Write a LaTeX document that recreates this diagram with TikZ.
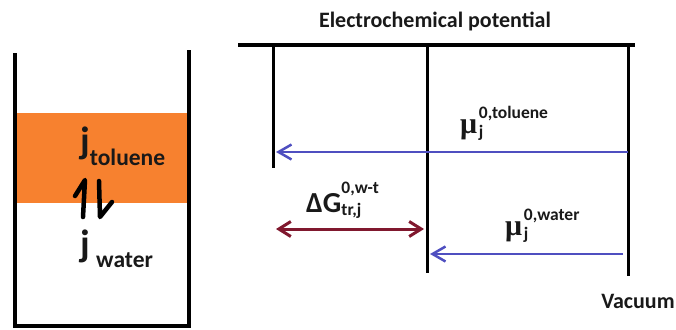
\documentclass[tikz,border=0pt]{standalone}
\usepackage{fontspec}
\setmainfont{Carlito}
\newfontfamily\greekfont{Liberation Serif}
\usetikzlibrary{arrows.meta, positioning}
\definecolor{myorange}{HTML}{F7812F}
\definecolor{myblue}{HTML}{4F4FC0}
\definecolor{mydarkred}{HTML}{80182E}
\newcommand{\fsz}[1]{\fontsize{#1}{#1}\selectfont}
% base, superscript, subscript, raise of the superscript, drop of the subscript
\newcommand{\potsym}[5]{#1\rlap{\raisebox{#4}{\fsz{17.5}#2}}\raisebox{-#5}{\fsz{17.5}#3}}

\begin{document}
\begin{tikzpicture}[x=1pt, y=-1pt, every node/.style={font=\bfseries, inner sep=0pt, text=black!90},
    wall/.style={line width=4pt},
    level/.style={line width=3pt},
    potarrow/.style={myblue, line width=2.5pt, -{Straight Barb[length=13pt,width=15pt]}},
    gaparrow/.style={mydarkred, line width=3pt, {Straight Barb[length=12pt,width=15pt]}-{Straight Barb[length=12pt,width=15pt]}},
    harp/.style={line width=4.5pt, line cap=round, line join=round}]
    \useasboundingbox (0,0) rectangle (676,329);
    % beaker with the two phases
    \fill[myorange] (15,113) rectangle (189,203);
    \draw[wall] (15,53) -- (15,326) -- (189,326) -- (189,50);
    \node[anchor=base west] (jtol) at (80,153) {\fsz{38}j\raisebox{-12pt}{\fsz{23.5}toluene}};
    \node[anchor=base west] (jwat) at (80,256) {\fsz{38}j\,\raisebox{-11pt}{\fsz{23.5}water}};
    \draw[harp] (83,217) -- (85,180) -- (75,196);
    \draw[harp] (99,181) -- (100,217) -- (112,202);
    % potential scale
    \node (title) at (435,21) {\fsz{22}Electrochemical potential};
    \draw[wall] (238,45) -- (635,45);
    \coordinate (tolend) at (273,168);
    \coordinate (watend) at (427,273);
    \coordinate (vacend) at (628,276);
    \draw[level] (273,45) -- (tolend);
    \draw[level] (427,45) -- (watend);
    \draw[level] (628,45) -- (vacend);
    \coordinate (tolfrom) at (628,152);
    \coordinate (toltip) at (276,152);
    \coordinate (watfrom) at (623,254);
    \coordinate (wattip) at (430,254);
    \coordinate (gapleft) at (276,229);
    \coordinate (gapright) at (424,229);
    \draw[potarrow] (tolfrom) -- (toltip);
    \draw[potarrow] (watfrom) -- (wattip);
    \draw[gaparrow] (gapleft) -- (gapright);
    \node[anchor=base west] (mutol) at (460,133) {\potsym{{\greekfont\fsz{30}μ}\,}{0,toluene}{j}{15pt}{4pt}};
    \node[anchor=base west] (muwat) at (505,235) {\potsym{{\greekfont\fsz{30}μ}\,}{0,water}{j}{15pt}{4pt}};
    \node[anchor=base west] (dgtr) at (306,212) {\potsym{\fsz{29}ΔG}{0,w-t}{tr,j}{19pt}{3pt}};
    \node (vac) at (638,301) {\fsz{22}Vacuum};
\end{tikzpicture}
\end{document}
